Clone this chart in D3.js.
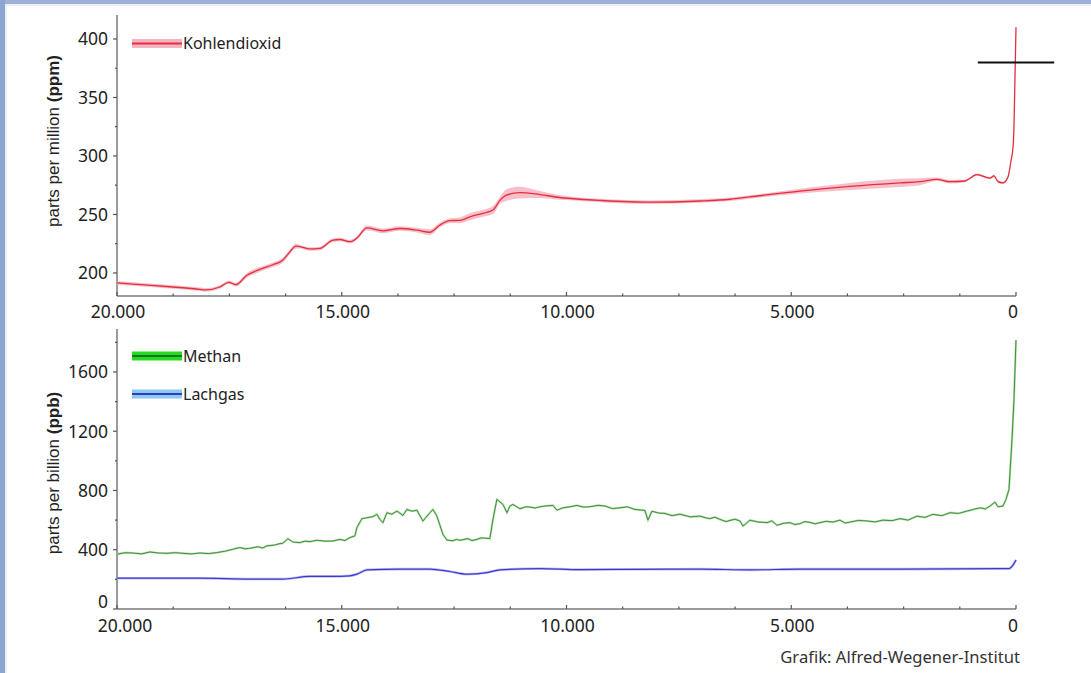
<!DOCTYPE html>
<html>
<head>
<meta charset="utf-8">
<script src="https://cdn.jsdelivr.net/npm/d3@7"></script>
<style>
  body { margin: 0; background: #fff; }
  svg { display: block; font-family: "Noto Sans", "DejaVu Sans", sans-serif; }
</style>
</head>
<body>
<svg id="svg" width="1091" height="673"></svg>
<script>
// CO2 (years before present, ppm, uncertainty)
const co2Years = [20000, 19647, 18757, 18156, 18045, 17711, 17511, 17355, 17110, 16821, 16532, 16309, 16154, 16020,
  15931, 15709, 15486, 15197, 15041, 14819, 14663, 14440, 14084, 13706, 13328, 13039, 12816, 12594, 12371, 12149,
  11859, 11637, 11481, 11325, 11036, 10591, 10146, 9701, 9256, 8144, 7031, 6364, 5919, 4806, 3694, 2581, 2136,
  1758, 1469, 1135, 868, 579, 490, 400, 289, 178, 111, 67, 45, 22, 0];
const co2Ppm = [191.5, 190.5, 188, 186, 185.5, 188, 192, 190, 198, 203, 207, 211, 218, 223,
  222.5, 220.5, 221, 228, 228.6, 226.7, 229.8, 238.5, 236, 238, 236.6, 234.8, 241, 244.7, 245, 248,
  251, 253.8, 262, 266.7, 268.7, 267, 264.5, 263, 262, 260.5, 261.5, 263, 265, 270, 274, 277, 278,
  280, 278, 278.6, 284, 281, 283, 278, 277, 282, 296, 307, 325, 368, 410];
const co2Err = [1.5, 1.5, 1.5, 1.5, 1.5, 1.5, 1.5, 1.5, 2, 2, 2, 2, 2, 2,
  1.5, 1.5, 1.5, 1.5, 1.5, 1.5, 1.5, 2, 2, 2, 2, 2.5, 2, 2, 2.5, 3,
  3, 3.5, 3, 5, 5, 3, 2, 1.5, 1.5, 1.5, 1.5, 1.5, 1.5, 2, 3, 3.5, 3,
  1.5, 1.5, 1, 1, 1, 1, 1, 1, 1, 1, 1, 1, 1, 1];
const co2Mark = { year: 0, ppm: 380, halfWidth: 850 };

// Methane (ppb)
const ch4Years = [20000, 19820, 19647, 19450, 19268, 19080, 18890, 18700, 18534, 18340, 18156, 17960, 17778, 17600,
  17422, 17266, 17150, 17044, 16866, 16760, 16665, 16487, 16400, 16309,
  16198, 16087, 15931, 15820, 15709, 15553, 15375, 15197, 15041, 14930, 14819, 14708, 14663, 14552, 14440, 14307, 14218, 14151,
  14084, 13995, 13884, 13773, 13639, 13550, 13439, 13328, 13194, 13039, 12972, 12883, 12749, 12660, 12527, 12450, 12371,
  12193, 12100, 11993, 11900, 11815, 11704, 11637, 11548, 11414, 11325, 11259, 11192, 11036, 10900, 10813, 10700, 10591, 10450, 10302, 10213, 10079,
  9920, 9768, 9620, 9479, 9300, 9145, 8980, 8811, 8650, 8477, 8255, 8188, 8099, 7950, 7810, 7650, 7476, 7250, 7031, 6900, 6809, 6700, 6586, 6450, 6364, 6250, 6141, 6074, 5919, 5750, 5540,
  5430, 5318, 5180, 5029, 4920, 4806, 4700, 4584, 4470, 4361, 4220, 4072, 3916, 3800, 3694, 3500, 3315, 3130, 2959, 2760, 2581, 2400, 2203, 2030, 1847, 1650, 1469, 1280, 1090, 950, 801, 680, 579, 467, 400,
  289, 223, 156, 89, 45, 0];
const ch4Ppb = [370, 380, 378, 372, 385, 378, 376, 380, 376, 372, 378, 374, 381, 390,
  403, 415, 406, 410, 420, 412, 426, 432, 440, 444,
  475, 452, 448, 458, 455, 464, 458, 459, 470, 462, 482, 493, 549, 610, 616, 623, 639, 605,
  583, 650, 640, 661, 632, 672, 660, 667, 594, 650, 672, 627, 504, 466, 460, 470, 464,
  475, 462, 470, 480, 478, 475, 605, 740, 706, 650, 695, 706, 677, 690, 688, 682, 690, 696, 699, 667, 683,
  690, 699, 688, 690, 700, 695, 678, 683, 690, 672, 665, 600, 660, 648, 645, 630, 640, 622, 627, 615, 610, 620, 605, 590, 598, 606, 594, 560, 600, 588, 583,
  595, 565, 578, 583, 570, 576, 590, 585, 575, 583, 592, 587, 600, 580, 587, 598, 594, 588, 600, 596, 610, 600, 627, 618, 639, 630, 650, 645, 661, 672, 683, 676, 695, 721, 690,
  695, 740, 807, 1143, 1412, 1815];

// Nitrous oxide (ppb)
const n2oYears = [20000, 18156, 17044, 16309, 15709, 15197, 14819, 14663, 14440, 13706, 13039, 12594, 12215, 11770,
  11481, 10591, 9701, 8500, 7031, 5919, 4806, 2581, 356, 156, 67, 0];
const n2oPpb = [208, 208, 202, 202, 220, 220, 224, 235, 264, 269, 269, 253, 235, 246,
  264, 273, 266, 268, 269, 264, 269, 269, 273, 273, 296, 331];

const xTicks = [20000, 15000, 10000, 5000, 0];
const ppmTicks = [200, 250, 300, 350, 400];
const ppbTicks = [0, 400, 800, 1200, 1600];

const svg = d3.select('svg');
const fmt = d => d === 0 ? '0' : d3.format(',')(d).replace(',', '.');

// frame
svg.append('rect').attr('x', 0).attr('y', 0).attr('width', 1091).attr('height', 4).attr('fill', '#9db0da');
svg.append('rect').attr('x', 0).attr('y', 4).attr('width', 1091).attr('height', 2).attr('fill', '#eceef2');
svg.append('rect').attr('x', 0).attr('y', 0).attr('width', 5).attr('height', 673).attr('fill', '#8ea4d2');
svg.append('rect').attr('x', 5).attr('y', 4).attr('width', 2).attr('height', 669).attr('fill', '#eceef2');

const x = d3.scaleLinear().domain([20000, 0]).range([117, 1016]);
const yTop = d3.scaleLinear().domain([180.3, 420.5]).range([296, 15]);
const yBot = d3.scaleLinear().domain([0, 1890]).range([609, 329]);

function drawAxes(y, ticks, minorStep, axisY, firstShift, labelGap) {
  const g = svg.append('g');
  const [d0, d1] = y.domain();
  g.append('line').attr('x1', x(20000)).attr('x2', x(20000)).attr('y1', y(d1)).attr('y2', y(d0))
    .attr('stroke', '#7a7a7a').attr('stroke-width', 1.5);
  d3.range(Math.ceil(d0 / minorStep) * minorStep, d1, minorStep).forEach(v => {
    const major = ticks.includes(v);
    g.append('line').attr('x1', x(20000) - (major ? 4 : 2)).attr('x2', x(20000))
      .attr('y1', y(v)).attr('y2', y(v)).attr('stroke', '#555').attr('stroke-width', 1.2);
  });
  ticks.forEach(v => {
    g.append('text').attr('x', 108).attr('y', y(v) - (v === 0 ? 7 : 0)).attr('dy', '0.36em').attr('text-anchor', 'end')
      .attr('font-size', 17.5).attr('fill', '#222').text(v);
  });
  g.append('line').attr('x1', x(20000)).attr('x2', x(0)).attr('y1', axisY).attr('y2', axisY)
    .attr('stroke', '#7a7a7a').attr('stroke-width', 1.5);
  d3.range(0, 20001, 1250).forEach(v => {
    const major = xTicks.includes(v);
    g.append('line').attr('x1', x(v)).attr('x2', x(v)).attr('y1', axisY).attr('y2', axisY - (major ? 4 : 2.5))
      .attr('stroke', '#555').attr('stroke-width', 1.2);
  });
  xTicks.forEach(v => {
    const dx = v === 0 ? -3 : (v === 20000 ? firstShift : 1);
    g.append('text').attr('x', x(v) + dx).attr('y', axisY + labelGap).attr('dy', '0.36em')
      .attr('text-anchor', 'middle').attr('font-size', 17.5).attr('fill', '#222').text(fmt(v));
  });
}

drawAxes(yTop, ppmTicks, 25, 296, 1, 16);
drawAxes(yBot, ppbTicks, 200, 609, 8, 17);

// axis titles
function yTitle(cx, cy, label, unit) {
  const t = svg.append('text').attr('transform', `translate(${cx},${cy}) rotate(-90)`)
    .attr('text-anchor', 'middle').attr('font-size', 17).attr('fill', '#222')
    .attr('font-family', '"Liberation Sans", Arial, sans-serif');
  t.append('tspan').text(label + ' ');
  t.append('tspan').attr('font-weight', 'bold').text(unit);
}
yTitle(59, 141, 'parts per million', '(ppm)');
yTitle(59, 473, 'parts per billion', '(ppb)');

// CO2
const co2 = co2Years.map((yr, i) => ({ yr, v: co2Ppm[i], e: co2Err[i] }));
svg.append('path').datum(co2)
  .attr('d', d3.area().x(d => x(d.yr)).y0(d => yTop(d.v - d.e)).y1(d => yTop(d.v + d.e)).curve(d3.curveMonotoneX))
  .attr('fill', '#f7b3bf').attr('opacity', 0.85);
svg.append('path').datum(co2)
  .attr('d', d3.line().x(d => x(d.yr)).y(d => yTop(d.v)).curve(d3.curveMonotoneX))
  .attr('fill', 'none').attr('stroke', '#e2303e').attr('stroke-width', 1.3);
svg.append('line')
  .attr('x1', x(co2Mark.year + co2Mark.halfWidth)).attr('x2', x(co2Mark.year - co2Mark.halfWidth))
  .attr('y1', yTop(co2Mark.ppm)).attr('y2', yTop(co2Mark.ppm))
  .attr('stroke', '#111').attr('stroke-width', 2);

// CH4 and N2O
const ch4 = ch4Years.map((yr, i) => ({ yr, v: ch4Ppb[i] }));
const n2o = n2oYears.map((yr, i) => ({ yr, v: n2oPpb[i] }));
const lineB = d3.line().x(d => x(d.yr)).y(d => yBot(d.v));
svg.append('path').datum(ch4).attr('d', lineB)
  .attr('fill', 'none').attr('stroke', '#b9e0b2').attr('stroke-width', 2.2);
svg.append('path').datum(ch4).attr('d', lineB)
  .attr('fill', 'none').attr('stroke', '#3f8f3a').attr('stroke-width', 1);
const lineN = d3.line().x(d => x(d.yr)).y(d => yBot(d.v)).curve(d3.curveMonotoneX);
svg.append('path').datum(n2o).attr('d', lineN)
  .attr('fill', 'none').attr('stroke', '#c0c0f2').attr('stroke-width', 2.6);
svg.append('path').datum(n2o).attr('d', lineN)
  .attr('fill', 'none').attr('stroke', '#3a3ad0').attr('stroke-width', 1.2);

// legends
function legend(cy, band, line, label) {
  svg.append('rect').attr('x', 132).attr('y', cy - 4.5).attr('width', 50).attr('height', 9).attr('fill', band);
  svg.append('line').attr('x1', 132).attr('x2', 182).attr('y1', cy).attr('y2', cy)
    .attr('stroke', line).attr('stroke-width', 1.8);
  svg.append('text').attr('x', 183).attr('y', cy).attr('dy', '0.36em').attr('font-size', 16)
    .attr('fill', '#222').text(label);
}
legend(43.5, '#f7b3bf', '#e2303e', 'Kohlendioxid');
legend(356, '#22dd22', '#1f6f1f', 'Methan');
legend(394, '#8ec8f5', '#2c3fb8', 'Lachgas');

svg.append('text').attr('x', 1020).attr('y', 657).attr('dy', '0.36em').attr('text-anchor', 'end')
  .attr('font-size', 16.6).attr('fill', '#333').text('Grafik: Alfred-Wegener-Institut');
</script>
</body>
</html>
